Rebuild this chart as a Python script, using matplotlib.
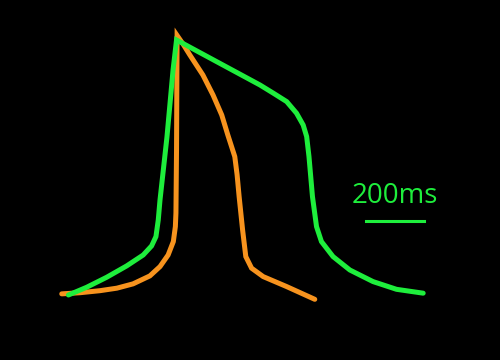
import matplotlib.pyplot as plt

# action potential traces, time in ms, membrane potential in mV
orange_t = [6, 69, 138, 196, 252, 310, 345, 373, 391, 398, 400, 402, 403, 404,
            424, 448, 493, 528, 558, 579, 603, 611, 618, 630, 641, 661, 701, 782, 879]
orange_v = [-85.4, -84.9, -84.0, -82.9, -81.0, -77.5, -73.4, -68.3, -62.4, -55.8, -49.8, -22.1, 4.3, 28.3,
            24.6, 19.7, 10.9, 2.1, -6.7, -15.5, -25.0, -33.0, -42.6, -57.3, -69.0, -74.1, -77.8, -82.2, -87.8]

green_t = [29, 92, 161, 230, 287, 316, 331, 339, 345, 369, 390, 402,
           690, 736, 782, 816, 839, 851, 859, 871, 885, 902, 942, 1000, 1080, 1161, 1253]
green_v = [-85.9, -82.5, -78.1, -73.1, -68.3, -64.3, -60.2, -52.9, -44.1, -16.4, 13.1, 26.3,
           6.5, 2.9, -0.8, -5.9, -11.1, -16.2, -25.0, -42.6, -55.8, -62.4, -69.0, -74.9, -80.0, -83.4, -85.1]

# scale bar
bar_start = 1056
bar_len = 200
bar_v = -53.3
bar_label = '200ms'

orange = '#F7931E'
green = '#1EEE3C'

fig = plt.figure(figsize=(5, 3.6), dpi=100, facecolor='black')
ax = fig.add_axes([0, 0, 1, 1])
ax.set_facecolor('black')

ax.plot(orange_t, orange_v, color=orange, lw=3.6, solid_capstyle='round', solid_joinstyle='miter')
ax.plot(green_t, green_v, color=green, lw=3.6, solid_capstyle='round', solid_joinstyle='miter')

# scale bar + label
ax.plot([bar_start, bar_start + bar_len], [bar_v, bar_v], color=green, lw=2.2)
ax.text(bar_start + bar_len / 2, bar_v + 8, bar_label, color=green, fontsize=20,
        family='Open Sans', ha='center', va='baseline')

ax.set_xlim(-207, 1518)
ax.set_ylim(-114.5, 43.9)
ax.axis('off')

fig.savefig('out.png', dpi=100, facecolor='black')
